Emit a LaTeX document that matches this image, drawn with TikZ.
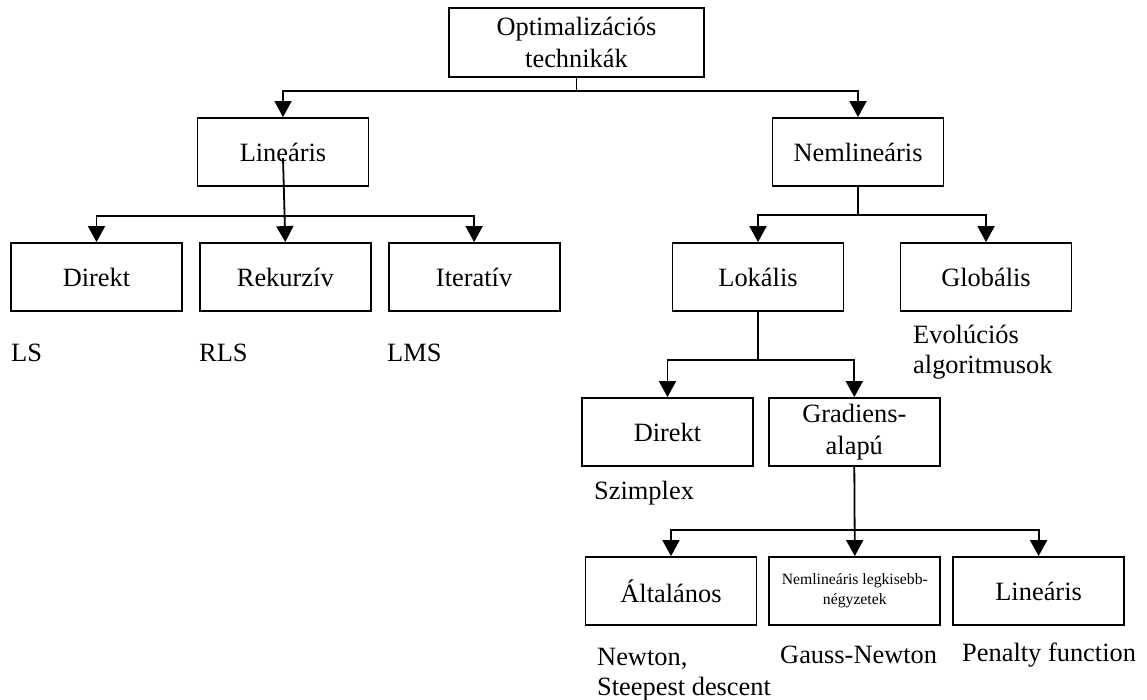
\documentclass[tikz,border=0pt]{standalone}
\usepackage{fontspec}
\setmainfont{Liberation Serif}
\usetikzlibrary{arrows.meta, positioning, calc}

\begin{document}
\begin{tikzpicture}[
        x=1pt, y=-1pt,
        node distance=16pt,
        box/.style={rectangle, draw=black, line width=1.8pt, minimum width=171pt, minimum height=68pt, align=center, inner sep=2pt, font=\fontsize{26.4}{32}\selectfont},
        lbl/.style={anchor=west, align=left, inner sep=0pt, font=\fontsize{26.4}{30}\selectfont},
        arr/.style={-{Triangle[length=16pt, width=17pt]}, line width=1.8pt}
    ]
        \useasboundingbox (0,0) rectangle (1147,700);

        \node[box, minimum width=255pt, minimum height=69pt] (optim) at (576.5,42.5) {Optimalizációs\\technikák};
        \node[box] (linearis) at (283,152) {Lineáris};
        \node[box] (nemlinearis) at (858,152) {Nemlineáris};

        \node[box] (direkt) at (96.5,277) {Direkt};
        \node[box, right=of direkt] (rekurziv) {Rekurzív};
        \node[box, right=of rekurziv] (iterativ) {Iteratív};
        \node[box] (lokalis) at (758,277) {Lokális};
        \node[box] (globalis) at (986,277) {Globális};

        \node[box] (direktlok) at (667.5,432) {Direkt};
        \node[box, right=14pt of direktlok] (gradiens) {Gradiens-\\alapú};

        \node[box] (altalanos) at (671,591) {Általános};
        \node[box, right=11pt of altalanos, font=\fontsize{15.7}{20}\selectfont] (nls) {Nemlineáris legkisebb-\\négyzetek};
        \node[box, right=11pt of nls] (linearislok) {Lineáris};

        \node[lbl] (ls) at (11,353) {LS};
        \node[lbl] (rls) at (199,353) {RLS};
        \node[lbl] (lms) at (387,353) {LMS};
        \node[lbl] (evolucios) at (913,352) {Evolúciós\\algoritmusok};
        \node[lbl] (szimplex) at (594,493) {Szimplex};
        \node[lbl] (newton) at (597,675) {Newton,\\Steepest descent};
        \node[lbl] (gaussnewton) at (780,655) {Gauss-Newton};
        \node[lbl] (penalty) at (962,655) {Penalty function};

        \coordinate (optimsplit) at ($(optim.south)+(0,13)$);
        \coordinate (linstart) at ($(linearis.center)+(0,6)$);
        \coordinate (linsplit) at ($(linearis.south)+(0,29)$);
        \coordinate (nemlinsplit) at ($(nemlinearis.south)+(0,28)$);
        \coordinate (loksplit) at ($(lokalis.south)+(0,48)$);
        \coordinate (gradsplit) at ($(gradiens.south)+(0,63)$);

        \draw[arr] (optim.south) -- (optimsplit) -| (linearis.north);
        \draw[arr] (optim.south) -- (optimsplit) -| (nemlinearis.north);

        \draw[arr] (linstart) -- (rekurziv.north);
        \draw[arr] (linsplit) -| (direkt.north);
        \draw[arr] (linsplit) -| (iterativ.north);

        \draw[arr] (nemlinearis.south) -- (nemlinsplit) -| (lokalis.north);
        \draw[arr] (nemlinearis.south) -- (nemlinsplit) -| (globalis.north);

        \draw[arr] (lokalis.south) -- (loksplit) -| (direktlok.north);
        \draw[arr] (lokalis.south) -- (loksplit) -| (gradiens.north);

        \draw[arr] (gradiens.south) -- (nls.north);
        \draw[arr] (gradsplit) -| (altalanos.north);
        \draw[arr] (gradsplit) -| (linearislok.north);
\end{tikzpicture}
\end{document}
